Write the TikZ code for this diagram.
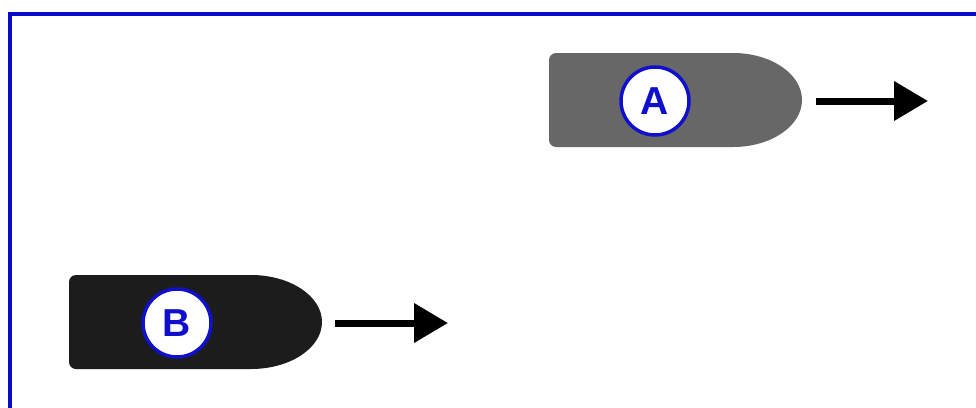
\documentclass[tikz,border=0pt]{standalone}
\usepackage{fontspec}
\setmainfont{Liberation Sans}
\usetikzlibrary{arrows.meta}
\definecolor{frameblue}{HTML}{0A0ACC}
\definecolor{boatgray}{HTML}{676767}
\definecolor{boatblack}{HTML}{1C1C1C}
\definecolor{labelblue}{HTML}{1010CC}
\tikzset{
  frame/.style={draw=frameblue, line width=4pt},
  boatAstyle/.style={fill=boatgray},
  boatBstyle/.style={fill=boatblack},
  badge/.style={circle, fill=white, draw=labelblue, line width=3.5pt, minimum size=68pt, inner sep=0pt,
    text=labelblue, font=\fontsize{39}{39}\selectfont\bfseries},
  motion/.style={line width=7pt, -{Triangle[length=34pt,width=38pt]}}
}
\begin{document}
\begin{tikzpicture}[x=1pt,y=-1pt]
\useasboundingbox (0,0) rectangle (976,407);
\clip (0,0) rectangle (976,407);
\fill[white] (0,0) rectangle (976,407);
% frame
\draw[frame] (10,14) rectangle (1000,409.5);
% boat A
\fill[boatAstyle] (733,147) [rounded corners=7pt] -- (549,147) -- (549,53) [sharp corners] -- (733,53)
  arc[start angle=-90, end angle=90, x radius=69, y radius=47] -- cycle;
\node[badge] (A) at (655,101) {A};
\coordinate (A1) at (816,101);
\coordinate (A2) at (928,101);
\draw[motion] (A1) -- (A2);
% boat B
\fill[boatBstyle] (251,369) [rounded corners=7pt] -- (69,369) -- (69,275) [sharp corners] -- (251,275)
  arc[start angle=-90, end angle=90, x radius=71, y radius=47] -- cycle;
\node[badge] (B) at (177,323) {B};
\coordinate (B1) at (335,323);
\coordinate (B2) at (448,323);
\draw[motion] (B1) -- (B2);
\end{tikzpicture}
\end{document}
